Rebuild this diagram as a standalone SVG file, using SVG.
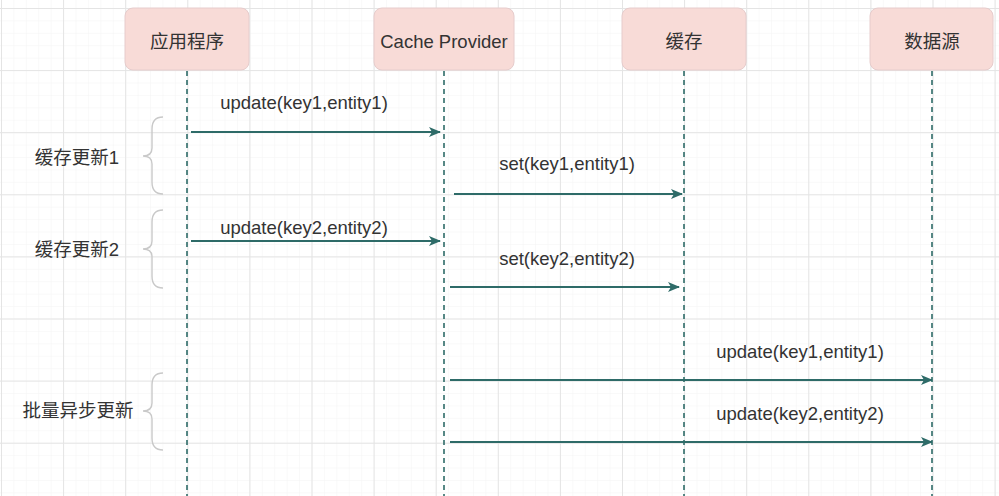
<svg xmlns="http://www.w3.org/2000/svg" width="999" height="496" viewBox="0 0 999 496">
<defs>
<pattern id="minor" width="12.42" height="12.42" patternUnits="userSpaceOnUse" x="1" y="8">
<path d="M0,0 H12.42 M0,0 V12.42" stroke="#f3f3f3" stroke-width="1" fill="none"/>
</pattern>
<pattern id="major" width="62.1" height="62.1" patternUnits="userSpaceOnUse" x="1" y="8">
<path d="M0,0.5 H62.1 M0.5,0 V62.1" stroke="#e4e4e4" stroke-width="1" fill="none"/>
</pattern>
<marker id="arr" viewBox="0 0 12 10" refX="11" refY="5" markerWidth="12" markerHeight="10" markerUnits="userSpaceOnUse" orient="auto">
<path d="M0,0 L12,5 L0,10 L3,5 Z" fill="#2e6b68"/>
</marker>
</defs>
<style>
.box{fill:#f8dbd7;stroke:#e6cccc;stroke-width:1}
.t{font-family:"Liberation Sans","Noto Sans CJK SC",sans-serif;font-size:18.5px;fill:#333}
.life{stroke:#2e6b68;stroke-width:1.6;stroke-dasharray:5,4;fill:none}
.msg{stroke:#2e6b68;stroke-width:2.2;fill:none;marker-end:url(#arr)}
.brace{stroke:#c9c9c9;stroke-width:1.4;fill:none}
</style>
<rect width="999" height="496" fill="#ffffff"/>
<rect width="999" height="496" fill="url(#minor)"/>
<rect width="999" height="496" fill="url(#major)"/>

<g id="lifelines">
<line class="life" x1="187" y1="71" x2="187" y2="496"/>
<line class="life" x1="444" y1="71" x2="444" y2="496"/>
<line class="life" x1="684" y1="71" x2="684" y2="496"/>
<line class="life" x1="932" y1="71" x2="932" y2="496"/>
</g>

<g id="app"><rect class="box" x="125" y="8" width="124" height="62" rx="8"/><text class="t" x="187" y="48" text-anchor="middle">应用程序</text></g>
<g id="cacheprovider"><rect class="box" x="374" y="8" width="140" height="62" rx="8"/><text class="t" x="444" y="48" text-anchor="middle">Cache Provider</text></g>
<g id="cache"><rect class="box" x="622" y="8" width="124" height="62" rx="8"/><text class="t" x="684" y="48" text-anchor="middle">缓存</text></g>
<g id="datasource"><rect class="box" x="870" y="8" width="123" height="62" rx="8"/><text class="t" x="932" y="48" text-anchor="middle">数据源</text></g>

<g id="connectors">
<line class="msg" x1="191" y1="132" x2="440" y2="132"/>
<text class="t" x="304" y="109" text-anchor="middle">update(key1,entity1)</text>
<line class="msg" x1="454" y1="194" x2="682" y2="194"/>
<text class="t" x="567" y="170" text-anchor="middle">set(key1,entity1)</text>
<line class="msg" x1="191" y1="241" x2="440" y2="241"/>
<text class="t" x="304" y="234" text-anchor="middle">update(key2,entity2)</text>
<line class="msg" x1="450" y1="287" x2="679" y2="287"/>
<text class="t" x="567" y="265" text-anchor="middle">set(key2,entity2)</text>
<line class="msg" x1="450" y1="380" x2="932" y2="380"/>
<text class="t" x="800" y="358" text-anchor="middle">update(key1,entity1)</text>
<line class="msg" x1="450" y1="442" x2="932" y2="442"/>
<text class="t" x="800" y="420" text-anchor="middle">update(key2,entity2)</text>
</g>

<g id="group1">
<path class="brace" d="M163,117 Q152,117 152,129 L152,148 Q152,156 143,156 Q152,156 152,164 L152,182 Q152,194 163,194"/>
<text class="t" x="77" y="164" text-anchor="middle">缓存更新1</text>
</g>
<g id="group2">
<path class="brace" d="M163,210 Q152,210 152,222 L152,241 Q152,249 143,249 Q152,249 152,257 L152,276 Q152,288 163,288"/>
<text class="t" x="77" y="256" text-anchor="middle">缓存更新2</text>
</g>
<g id="group3">
<path class="brace" d="M163,373 Q152,373 152,385 L152,403 Q152,411 143,411 Q152,411 152,419 L152,438 Q152,450 163,450"/>
<text class="t" x="78" y="417" text-anchor="middle">批量异步更新</text>
</g>
</svg>
